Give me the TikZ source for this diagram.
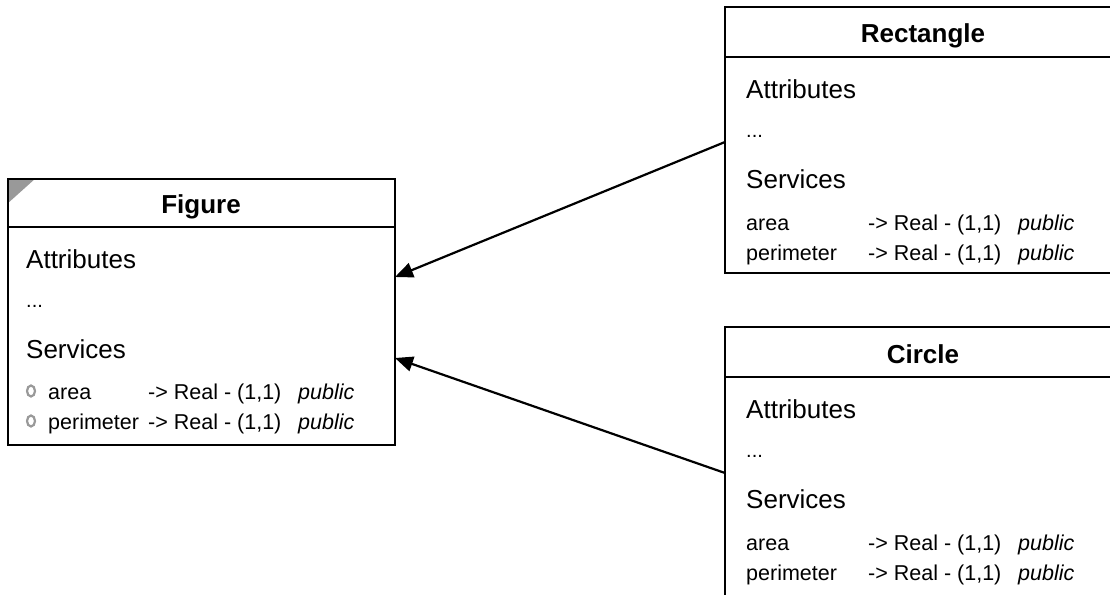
\documentclass[tikz,border=0pt]{standalone}
\usepackage{fontspec}
\setmainfont{Liberation Sans}
\usetikzlibrary{arrows.meta,shapes.geometric}
\definecolor{markgray}{RGB}{153,153,153}
\begin{document}
\begin{tikzpicture}[x=1pt,y=-1pt,
  classbox/.style={draw=black,line width=2.4pt,rectangle,inner sep=0,outer sep=0,anchor=north west},
  sepline/.style={line width=2.8pt},
  title/.style={font=\fontsize{26}{30}\selectfont\bfseries,anchor=base,inner sep=0},
  sect/.style={font=\fontsize{26}{30}\selectfont,anchor=base west,inner sep=0},
  dots/.style={font=\fontsize{20}{24}\selectfont,anchor=base west,inner sep=0},
  row/.style={font=\fontsize{21.5}{26}\selectfont,anchor=base west,inner sep=0},
  vis/.style={font=\fontsize{21.5}{26}\selectfont\itshape,anchor=base west,inner sep=0},
  marker/.style={ellipse,draw=markgray,line width=2.2pt,minimum width=8pt,minimum height=11pt,inner sep=0},
  inherit/.style={line width=2.2pt,-{Triangle[length=18pt,width=15pt]}}]
\useasboundingbox (0,0) rectangle (1110,594);
\clip (0,0) rectangle (1110,594);

% ---- Figure (abstract class) ----
\node[classbox,minimum width=387pt,minimum height=266pt] (fig) at (8,179) {};
\fill[markgray] ([shift={(-1pt,1pt)}]fig.north west) -- ([xshift=28pt,yshift=1pt]fig.north west)
  -- ([xshift=-1pt,yshift=-25pt]fig.north west) -- cycle;
\draw[line width=2.4pt] (fig.north west) rectangle (fig.south east);
\draw[sepline] ([yshift=-48pt]fig.north west) -- ([yshift=-48pt]fig.north east);
\node[title] (figT) at (201,213) {Figure};
\node[sect] (figA) at (26,268) {Attributes};
\node[dots] (figD) at (26,307) {...};
\node[sect] (figS) at (26,358) {Services};
\node[marker] (figM1) at (31,391) {};
\node[row] (figR1a) at (48,399) {area};
\node[row] (figR1b) at (148,399) {-> Real - (1,1)};
\node[vis] (figR1c) at (298,399) {public};
\node[marker] (figM2) at (31,421) {};
\node[row] (figR2a) at (48,429) {perimeter};
\node[row] (figR2b) at (148,429) {-> Real - (1,1)};
\node[vis] (figR2c) at (298,429) {public};

% ---- Rectangle ----
\node[classbox,minimum width=396pt,minimum height=266pt] (rect) at (725,7) {};
\draw[sepline] ([yshift=-50pt]rect.north west) -- ([yshift=-50pt]rect.north east);
\node[title] (rectT) at (923,43) {Rectangle};
\node[sect] (rectA) at (746,98) {Attributes};
\node[dots] (rectD) at (746,137) {...};
\node[sect] (rectS) at (746,188) {Services};
\node[row] (rectR1a) at (746,230) {area};
\node[row] (rectR1b) at (868,230) {-> Real - (1,1)};
\node[vis] (rectR1c) at (1018,230) {public};
\node[row] (rectR2a) at (746,260) {perimeter};
\node[row] (rectR2b) at (868,260) {-> Real - (1,1)};
\node[vis] (rectR2c) at (1018,260) {public};

% ---- Circle ----
\node[classbox,minimum width=396pt,minimum height=272pt] (circ) at (725,327) {};
\draw[sepline] ([yshift=-50pt]circ.north west) -- ([yshift=-50pt]circ.north east);
\node[title] (circT) at (923,363) {Circle};
\node[sect] (circA) at (746,418) {Attributes};
\node[dots] (circD) at (746,457) {...};
\node[sect] (circS) at (746,508) {Services};
\node[row] (circR1a) at (746,550) {area};
\node[row] (circR1b) at (868,550) {-> Real - (1,1)};
\node[vis] (circR1c) at (1018,550) {public};
\node[row] (circR2a) at (746,580) {perimeter};
\node[row] (circR2b) at (868,580) {-> Real - (1,1)};
\node[vis] (circR2c) at (1018,580) {public};

% ---- generalisation arrows ----
\draw[inherit] ([yshift=-2pt]rect.west) -- ([yshift=35pt]fig.east);
\draw[inherit] ([yshift=-10pt]circ.west) -- ([yshift=-46pt]fig.east);
\end{tikzpicture}
\end{document}
